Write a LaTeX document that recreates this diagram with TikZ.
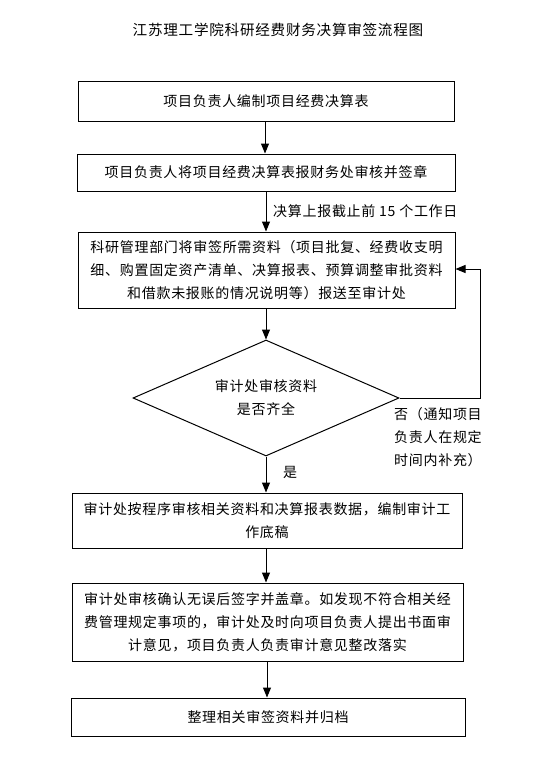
\documentclass[tikz,border=0pt]{standalone}
\usepackage{fontspec}
\setmainfont{Noto Sans CJK SC}[LetterSpace=5]
\usetikzlibrary{arrows.meta,shapes.geometric}
\newcommand{\boxfont}{\fontsize{14pt}{23pt}\selectfont}
\newcommand{\titlefont}{\fontsize{14.6pt}{20pt}\selectfont}
\begin{document}
\begin{tikzpicture}[x=1pt,y=-1pt,
  box/.style={draw, line width=1pt, rectangle, inner sep=0pt, align=center, font=\boxfont},
  lbl/.style={inner sep=0pt, font=\boxfont},
  arr/.style={line width=1pt, -{Triangle[length=10pt,width=8pt]}}]
\useasboundingbox[fill=white] (0,0) rectangle (537,761);
\node[font=\titlefont, inner sep=0pt] (title) at (278,30) {江苏理工学院科研经费财务决算审签流程图};
\node[box, minimum width=376pt, minimum height=40pt] (b1) at (266,101) {项目负责人编制项目经费决算表};
\node[box, minimum width=378pt, minimum height=37pt] (b2) at (266,172.5) {项目负责人将项目经费决算表报财务处审核并签章};
\node[box, minimum width=377pt, minimum height=76pt] (b3) at (266.5,270) {科研管理部门将审签所需资料（项目批复、经费收支明\\细、购置固定资产清单、决算报表、预算调整审批资料\\和借款未报账的情况说明等）报送至审计处};
\node[draw, line width=1pt, diamond, aspect=2.3, inner sep=0pt, minimum width=266pt, minimum height=116pt, align=center, font=\boxfont] (d) at (266,398) {审计处审核资料\\是否齐全};
\node[box, minimum width=390pt, minimum height=55pt] (b4) at (267,520.5) {审计处按程序审核相关资料和决算报表数据，编制审计工\\作底稿};
\node[box, minimum width=391pt, minimum height=78pt] (b5) at (267.5,622) {审计处审核确认无误后签字并盖章。如发现不符合相关经\\费管理规定事项的，审计处及时向项目负责人提出书面审\\计意见，项目负责人负责审计意见整改落实};
\node[box, minimum width=394pt, minimum height=38pt] (b6) at (268,717) {整理相关审签资料并归档};
\node[lbl, anchor=west] (l1) at (273,211) {决算上报截止前 15 个工作日};
\node[lbl, anchor=north west, align=left] (l2) at (394,407) {否（通知项目\\负责人在规定\\时间内补充）};
\node[lbl, anchor=west] (l3) at (283,472) {是};
\coordinate (fb1) at (480,398);
\coordinate (fb2) at (480,269);
\draw[arr] (b1.south -| 265,0) -- (b2.north -| 265,0);
\draw[arr] (b2.south -| 266,0) -- (b3.north -| 266,0);
\draw[arr] (b3.south -| 266,0) -- (d.north);
\draw[arr] (d.south) -- (b4.north -| d.south);
\draw[arr] (b4.south -| 266,0) -- (b5.north -| 266,0);
\draw[arr] (b5.south -| 267,0) -- (b6.north -| 267,0);
\draw[arr] (d.east) -- (fb1) -- (fb2) -- (b3.east |- fb2);
\end{tikzpicture}
\end{document}
